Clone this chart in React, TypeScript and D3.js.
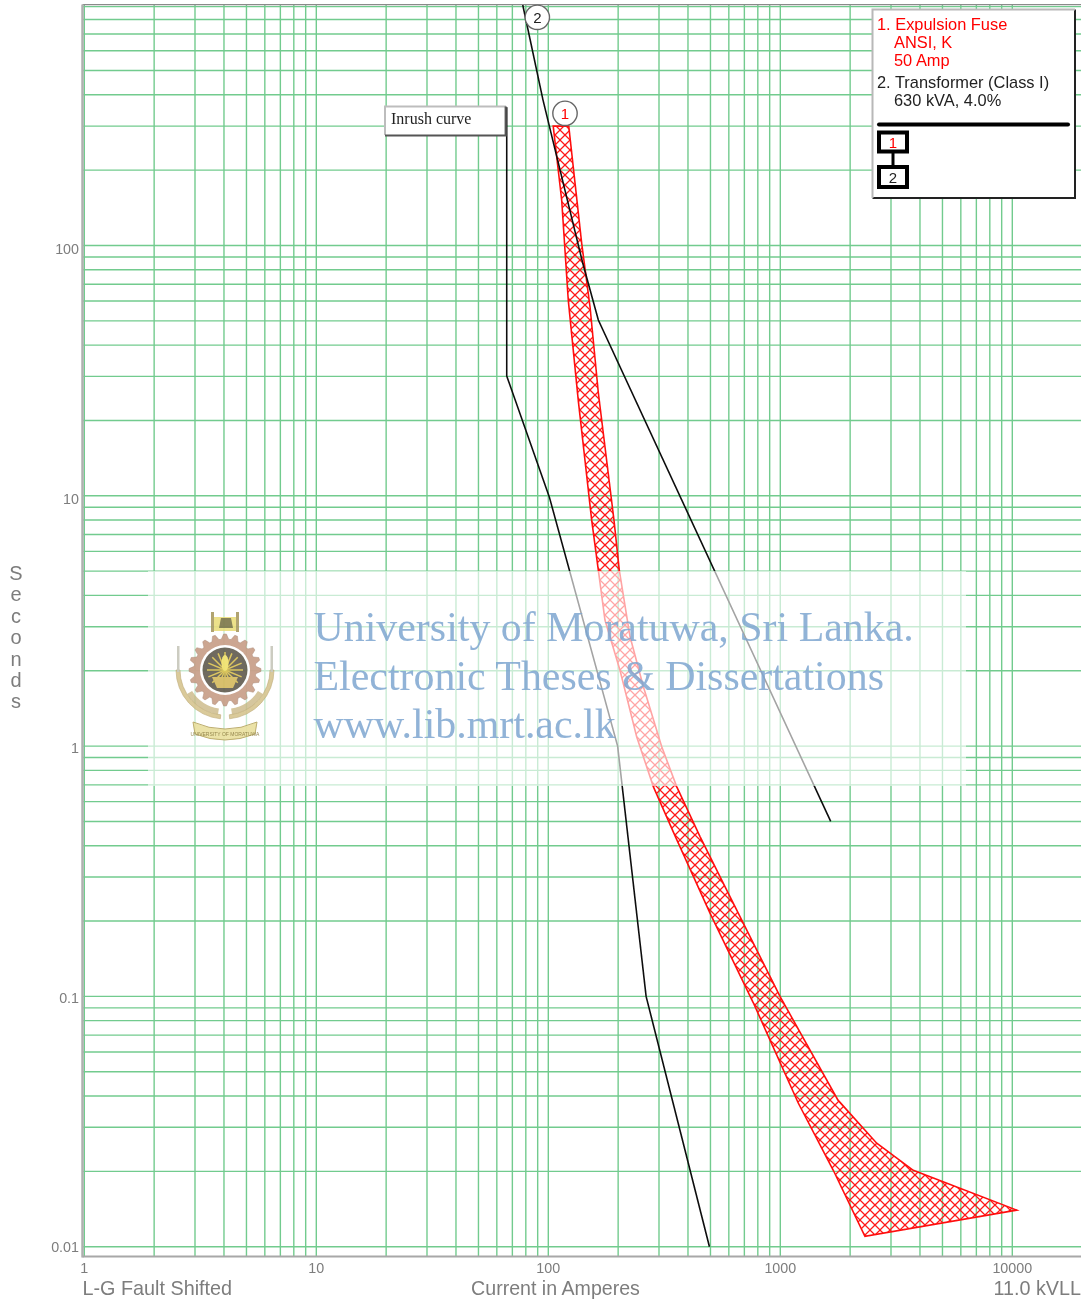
import React from "react";
import * as d3 from "d3";

const width = 1086;
const height = 1302;

// fuse 1 band (amps, seconds)
const meltAmps = [105, 114.2, 121.9, 134.6, 153.8, 164.3, 175.5, 203.7, 240.4, 283.6, 353, 497.7, 765, 1195, 1692, 2317];
const meltSecs = [300, 152, 60.6, 24.1, 8.0, 5.05, 3.19, 2.01, 1.09, 0.689, 0.435, 0.215, 0.0943, 0.0375, 0.0202, 0.011];
const clearAmps = [122.5, 139.3, 151.3, 164.3, 191.9, 202.3, 225, 256.8, 308, 357.6, 450.8, 587.5, 997, 1773, 2604, 3742, 10450];
const clearSecs = [300, 102, 56.9, 25.8, 8.0, 5.05, 2.74, 1.73, 0.996, 0.689, 0.435, 0.266, 0.1, 0.0385, 0.0259, 0.0202, 0.014];

// transformer damage curve
const damageAmps = [77.6, 94.9, 140.7, 164.3, 1649];
const damageSecs = [914, 381, 85.1, 50.4, 0.5];

// inrush curve
const inrushAmps = [66.2, 66.2, 101, 199, 264, 495];
const inrushSecs = [357, 30.1, 9.9, 1, 0.1, 0.01];

const xTickValues = [1, 10, 100, 1000, 10000];
const xTickLabels = ["1", "10", "100", "1000", "10000"];
const yTickValues = [0.01, 0.1, 1, 10, 100];
const yTickLabels = ["0.01", "0.1", "1", "10", "100"];

const legendFuse = ["1. Expulsion Fuse", "ANSI, K", "50 Amp"];
const legendTransformer = ["2. Transformer (Class I)", "630 kVA, 4.0%"];
const watermarkLines = ["University of Moratuwa, Sri Lanka.", "Electronic Theses & Dissertations", "www.lib.mrt.ac.lk"];
const yTitle = "Seconds".split("");

const SANS = "'Liberation Sans', Arial, sans-serif";
const SERIF = "'Liberation Serif', 'Times New Roman', serif";
const GREEN = "#72cb8e";
const GREY = "#7d7d7d";

const left = 82.5;
const right = 1081;
const top = 4.5;
const bottom = 1256.5;

const x = d3.scaleLog().domain([1, 10000]).range([84.3, 1012.3]);
const y = d3.scaleLog().domain([0.01, 1000]).range([1246.7, -4.8]);
// the y labels sit a little below their grid lines
const yLabel = d3.scaleLog().domain([0.01, 100]).range([1252, 254]);

const line = d3
  .line<[number, number]>()
  .x((d) => x(d[0]))
  .y((d) => y(d[1]));

const zip = (a: number[], b: number[]) => a.map((v, i) => [v, b[i]] as [number, number]);

const bandPath =
  line([...zip(meltAmps, meltSecs), ...zip(clearAmps, clearSecs).reverse()]) + "Z";

// small emblem beside the watermark text
const Emblem = () => {
  const teeth = 20;
  const gearPts: [number, number][] = d3.range(teeth * 4).map((i) => {
    const r = i % 4 < 2 ? 36 : 31;
    return [((i - 0.5) / (teeth * 4)) * 2 * Math.PI, r];
  });
  const gearPath = d3.lineRadial().curve(d3.curveLinearClosed)(gearPts) || "";
  const wreath = d3.arc()({
    innerRadius: 45,
    outerRadius: 49,
    startAngle: Math.PI * 0.5,
    endAngle: Math.PI * 0.97,
  }) || "";
  const wreathInner = d3.arc()({
    innerRadius: 39,
    outerRadius: 45,
    startAngle: Math.PI * 0.68,
    endAngle: Math.PI * 0.95,
  }) || "";
  const rays = d3.range(16).map((i) => (i / 16) * 2 * Math.PI);
  return (
    <g transform="translate(225,670)" opacity={0.9}>
      {[1, -1].map((s) => (
        <g key={s} transform={`scale(${s},1)`}>
          <path d={wreath} fill="#d6c48f" stroke="#b7a26c" strokeWidth={0.6} />
          <path d={wreathInner} fill="#c4b078" opacity={0.8} />
          <rect x={45.5} y={-24} width={2.5} height={26} fill="#c6c6ba" />
        </g>
      ))}
      <path d={gearPath} fill="#c79c85" stroke="#a5836e" strokeWidth={0.5} />
      <circle r={25} fill="#fff" />
      <circle r={22.5} fill="#5f5a4c" />
      {rays.map((a) => (
        <line
          key={a}
          x1={0}
          y1={0}
          x2={Math.sin(a) * 18}
          y2={-Math.cos(a) * 18}
          stroke="#d9c04e"
          strokeWidth={1.5}
        />
      ))}
      <ellipse cx={0} cy={-7} rx={3.5} ry={8} fill="#f0e06a" />
      <path d="M-13 7 L13 7 L8 18 L-8 18 Z" fill="#d4b95c" />
      {/* lion */}
      <rect x={-14} y={-53} width={28} height={14} fill="#e8da70" opacity={0.9} />
      <rect x={-14} y={-58} width={3} height={20} fill="#a89a62" />
      <rect x={11} y={-58} width={3} height={20} fill="#a89a62" />
      <path d="M-4 -52 L6 -52 L8 -42 L-6 -42 Z" fill="#7b7648" />
      {/* ribbon */}
      <path
        d="M-32 52 Q0 66 32 52 L30 64 Q0 76 -30 64 Z"
        fill="#e9df9d"
        stroke="#b5a460"
        strokeWidth={1}
      />
      <text x={0} y={66} fontSize={5} textAnchor="middle" fontFamily={SANS} fill="#8a7a3c">
        UNIVERSITY OF MORATUWA
      </text>
    </g>
  );
};

export default function App() {
  const xGrid = x.ticks().filter((v) => v <= 10000);
  const yGrid = y.ticks().filter((v) => v < 999);

  return (
    <svg
      width={width}
      height={height}
      style={{ position: "absolute", left: 0, top: 0, background: "#fff" }}
    >
      <defs>
        <pattern id="hatch" patternUnits="userSpaceOnUse" width={10} height={10}>
          <path d="M-1 -1L11 11M11 -1L-1 11" stroke="#ff1414" strokeWidth={1.25} fill="none" />
        </pattern>
        <clipPath id="plot">
          <rect x={left} y={top} width={right - left} height={bottom - top} />
        </clipPath>
        {/* the reference is a rescaled screenshot, slightly soft */}
        <filter id="soft" x="0" y="0" width="100%" height="100%">
          <feGaussianBlur stdDeviation={0.4} />
        </filter>
      </defs>

      <g filter="url(#soft)">
        {/* grid */}
        {xGrid.map((v) => (
          <line key={v} x1={x(v)} x2={x(v)} y1={top} y2={bottom} stroke={GREEN} strokeWidth={1.4} />
        ))}
        {yGrid.map((v) => (
          <line key={v} x1={left} x2={right} y1={y(v)} y2={y(v)} stroke={GREEN} strokeWidth={1.4} />
        ))}

        {/* frame */}
        <line x1={left} x2={right} y1={top} y2={top} stroke="#8a8a8a" strokeWidth={1.5} />
        <line x1={left} x2={left} y1={top} y2={bottom + 1} stroke="#b0b0b0" strokeWidth={2.5} />
        <line x1={left} x2={right} y1={bottom} y2={bottom} stroke="#a8a8a8" strokeWidth={2} />

        {/* curves */}
        <g clipPath="url(#plot)">
          <path d={bandPath} fill="url(#hatch)" stroke="#ff1010" strokeWidth={1.6} />
          <path d={line(zip(damageAmps, damageSecs)) || ""} fill="none" stroke="#111" strokeWidth={1.6} />
          <path d={line(zip(inrushAmps, inrushSecs)) || ""} fill="none" stroke="#111" strokeWidth={1.6} />
        </g>

        {/* curve number bubbles */}
        <circle cx={537.3} cy={17.3} r={12.2} fill="#fff" stroke="#666" strokeWidth={1.4} />
        <text x={537.3} y={23} textAnchor="middle" fontFamily={SANS} fontSize={15} fill="#222">2</text>
        <circle cx={565} cy={113.3} r={12.2} fill="#fff" stroke="#666" strokeWidth={1.4} />
        <text x={565} y={119} textAnchor="middle" fontFamily={SANS} fontSize={15} fill="#f00">1</text>

        {/* inrush label */}
        <rect x={385} y={106.5} width={121} height={29} fill="#fff" />
        <path d="M385 135V106.5H506" fill="none" stroke="#bdbdbd" strokeWidth={2} />
        <path d="M505.7 106.5V135.5H385" fill="none" stroke="#555" strokeWidth={2.2} />
        <text x={391} y={124} fontFamily={SERIF} fontSize={16} fill="#222">Inrush curve</text>

        {/* legend box */}
        <rect x={872.5} y={9.5} width={203} height={189} fill="#fff" />
        <path d="M1075 9.5V198H872.5" fill="none" stroke="#222" strokeWidth={2} />
        <path d="M872.5 198V9.5H1075" fill="none" stroke="#b8b8b8" strokeWidth={2} />
        {legendFuse.map((t, i) => (
          <text key={t} x={i === 0 ? 877 : 894} y={30 + i * 18} fontFamily={SANS} fontSize={16.4} fill="#f00">{t}</text>
        ))}
        {legendTransformer.map((t, i) => (
          <text key={t} x={i === 0 ? 877 : 894} y={88 + i * 18} fontFamily={SANS} fontSize={16.4} fill="#222">{t}</text>
        ))}
        <line x1={879} x2={1068} y1={124.5} y2={124.5} stroke="#000" strokeWidth={4} strokeLinecap="round" />
        <rect x={879} y={132.5} width={28} height={19} fill="#fff" stroke="#000" strokeWidth={4} />
        <line x1={893} x2={893} y1={153} y2={165} stroke="#000" strokeWidth={3} />
        <rect x={879} y={167} width={28} height={20} fill="#fff" stroke="#000" strokeWidth={4} />
        <text x={893} y={147.5} textAnchor="middle" fontFamily={SANS} fontSize={15} fill="#f00">1</text>
        <text x={893} y={183} textAnchor="middle" fontFamily={SANS} fontSize={15} fill="#222">2</text>

        {/* watermark */}
        <rect x={148} y={571} width={818} height={215} fill="#fff" opacity={0.62} />
        <Emblem />
        {watermarkLines.map((t, i) => (
          <text
            key={t}
            x={313.5}
            y={641 + i * 48.5}
            fontFamily={SERIF}
            fontSize={41.9}
            fill="#7ea6d0"
            opacity={0.85}
          >
            {t}
          </text>
        ))}

        {/* axis labels */}
        {yTickValues.map((v, i) => (
          <text key={v} x={79} y={yLabel(v)} textAnchor="end" fontFamily={SANS} fontSize={14.3} fill={GREY}>
            {yTickLabels[i]}
          </text>
        ))}
        {xTickValues.map((v, i) => (
          <text key={v} x={x(v)} y={1273} textAnchor="middle" fontFamily={SANS} fontSize={14.3} fill={GREY}>
            {xTickLabels[i]}
          </text>
        ))}
        <text x={82.5} y={1295} fontFamily={SANS} fontSize={19.8} fill={GREY}>L-G Fault Shifted</text>
        <text x={555.5} y={1295} textAnchor="middle" fontFamily={SANS} fontSize={19.6} fill={GREY}>Current in Amperes</text>
        <text x={1081} y={1295} textAnchor="end" fontFamily={SANS} fontSize={19.8} fill={GREY}>11.0 kVLL</text>
        {yTitle.map((c, i) => (
          <text key={i} x={16} y={580 + i * 21.4} textAnchor="middle" fontFamily={SANS} fontSize={20} fill={GREY}>
            {c}
          </text>
        ))}
      </g>
    </svg>
  );
}
